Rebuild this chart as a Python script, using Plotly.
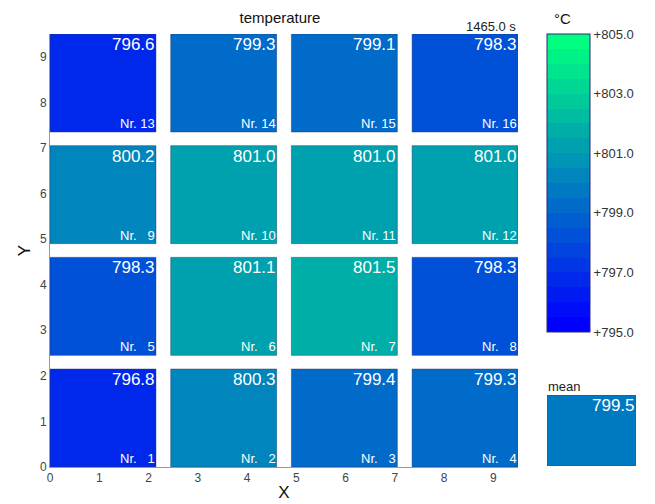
import numpy as np
import plotly.graph_objects as go

# ---------------- data ----------------
sensor_numbers = [[1, 2, 3, 4], [5, 6, 7, 8], [9, 10, 11, 12], [13, 14, 15, 16]]  # rows bottom->top
temperatures = [
    [796.8, 800.3, 799.4, 799.3],
    [798.3, 801.1, 801.5, 798.3],
    [800.2, 801.0, 801.0, 801.0],
    [796.6, 799.3, 799.1, 798.3],
]
time_label = "1465.0 s"
unit_label = "°C"
zmin, zmax = 795.0, 805.0
n_bands = 20
cbar_ticks = [795.0, 797.0, 799.0, 801.0, 803.0, 805.0]
axis_ticks = list(range(10))

# ---------------- layout geometry ----------------
cell = 2.15
gap = 0.30
ncol, nrow = 4, 4
FONT = "Liberation Sans, Arial, sans-serif"
W, H = 655, 504
ML, MR, MT, MB = 50, 5, 34, 37
PW, PH = W - ML - MR, H - MT - MB
main_right_px = 518

def px_x(px):
    return (px - ML) / PW

def px_y(py):
    return (H - MB - py) / PH

# discrete "winter" colormap
colorscale = []
for i in range(n_bands):
    f = i / (n_bands - 1)
    c = f"rgb(0,{round(255 * f)},{round(255 * (1 - 0.5 * f))})"
    colorscale.append([i / n_bands, c])
    colorscale.append([(i + 1) / n_bands, c])

temps = np.array(temperatures, dtype=float)
starts = [k * (cell + gap) for k in range(ncol)]
total = starts[-1] + cell

cb_left, cb_right, cb_top, cb_h = 547, 590, 34, 298
border = "rgba(30,60,110,0.45)"

fig = go.Figure()
shapes = []
annotations = []
first = True
for r in range(nrow):
    for c in range(ncol):
        x0 = starts[c]; x1 = x0 + cell
        y0 = starts[r]; y1 = y0 + cell
        fig.add_trace(go.Heatmap(
            x=[x0, x1], y=[y0, y1], z=[[temps[r, c]]], zmin=zmin, zmax=zmax,
            colorscale=colorscale, showscale=first,
            name=f"Nr. {sensor_numbers[r][c]}",
            colorbar=dict(
                x=px_x(cb_left), xanchor="left", xpad=0,
                y=px_y(cb_top), yanchor="top", ypad=0,
                len=cb_h, lenmode="pixels", thickness=cb_right - cb_left, thicknessmode="pixels",
                outlinewidth=1, outlinecolor="rgb(40,40,120)",
                tickvals=cbar_ticks, ticktext=[f"+{v:.1f}" for v in cbar_ticks], ticks="",
                tickfont=dict(family=FONT, size=13, color="#333"),
            ),
        ))
        first = False
        shapes.append(dict(type="rect", xref="x", yref="y", x0=x0, x1=x1, y0=y0, y1=y1,
                           line=dict(color=border, width=1)))
        annotations.append(dict(xref="x", yref="y", x=x1, y=y1, xanchor="right", yanchor="top",
                                text=f"{temps[r, c]:.1f}", showarrow=False, borderpad=0,
                                font=dict(family=FONT, size=17, color="white")))
        num = sensor_numbers[r][c]
        label = f"Nr. {num}" if num >= 10 else f"Nr. \u2007{num}"
        annotations.append(dict(xref="x", yref="y", x=x1, y=y0, xanchor="right", yanchor="bottom",
                                text=label, showarrow=False, borderpad=0,
                                font=dict(family=FONT, size=13, color="white")))

mean_val = float(np.round(temps.mean(), 1))
fig.add_trace(go.Heatmap(
    x=[0, 1], y=[0, 1], z=[[mean_val]], zmin=zmin, zmax=zmax, colorscale=colorscale,
    showscale=False, xaxis="x2", yaxis="y2", name="mean",
))

# colorbar band separators
for k in range(1, n_bands):
    yy = px_y(cb_top + k * cb_h / n_bands)
    shapes.append(dict(type="line", xref="paper", yref="paper", x0=px_x(cb_left), x1=px_x(cb_right),
                       y0=yy, y1=yy, line=dict(color="rgba(20,50,80,0.5)", width=1)))

# colorbar unit
annotations.append(dict(xref="paper", yref="paper", x=px_x(552), y=px_y(18),
                        xanchor="left", yanchor="middle", text=unit_label, showarrow=False,
                        font=dict(family=FONT, size=15, color="#111")))

# mean box border and labels
shapes.append(dict(type="rect", xref="x2", yref="y2", x0=0, x1=1, y0=0, y1=1,
                   line=dict(color=border, width=1)))
annotations.append(dict(xref="x2", yref="y2", x=1, y=1, xanchor="right", yanchor="top",
                        text=f"{mean_val:.1f}", showarrow=False, borderpad=0,
                        font=dict(family=FONT, size=17, color="white")))
annotations.append(dict(xref="x2", yref="y2", x=0, y=1, xanchor="left", yanchor="bottom",
                        text="mean", showarrow=False, borderpad=0,
                        font=dict(family=FONT, size=13, color="#222")))
annotations.append(dict(xref="paper", yref="paper", x=px_x(main_right_px), y=px_y(27),
                        xanchor="right", yanchor="middle", text=time_label, showarrow=False,
                        font=dict(family=FONT, size=13, color="#222")))

main_dom = [0, px_x(main_right_px)]
fig.update_layout(
    width=W, height=H, margin=dict(l=ML, r=MR, t=MT, b=MB),
    paper_bgcolor="white", plot_bgcolor="white", showlegend=False,
    title=dict(text="temperature", x=(px_x(280)), xref="paper", xanchor="center",
               y=1 - 18 / H, yref="container", yanchor="middle",
               font=dict(family=FONT, size=15, color="#111")),
    xaxis=dict(domain=main_dom, range=[0, total], tickvals=axis_ticks, ticks="",
               showgrid=False, zeroline=False, showline=True, linecolor="#999", linewidth=1,
               tickfont=dict(family=FONT, size=12, color="#444"),
               title=dict(text="X", standoff=1, font=dict(family=FONT, size=17, color="#111"))),
    yaxis=dict(range=[0, total], tickvals=axis_ticks, ticks="",
               showgrid=False, zeroline=False, showline=True, linecolor="#999", linewidth=1,
               tickfont=dict(family=FONT, size=12, color="#444"),
               title=dict(text="Y", standoff=4, font=dict(family=FONT, size=17, color="#111"))),
    xaxis2=dict(domain=[px_x(547), px_x(636)], range=[0, 1], visible=False, anchor="y2"),
    yaxis2=dict(domain=[px_y(466), px_y(395)], range=[0, 1], visible=False, anchor="x2"),
    shapes=shapes, annotations=annotations,
)

fig.write_html("out.html")
